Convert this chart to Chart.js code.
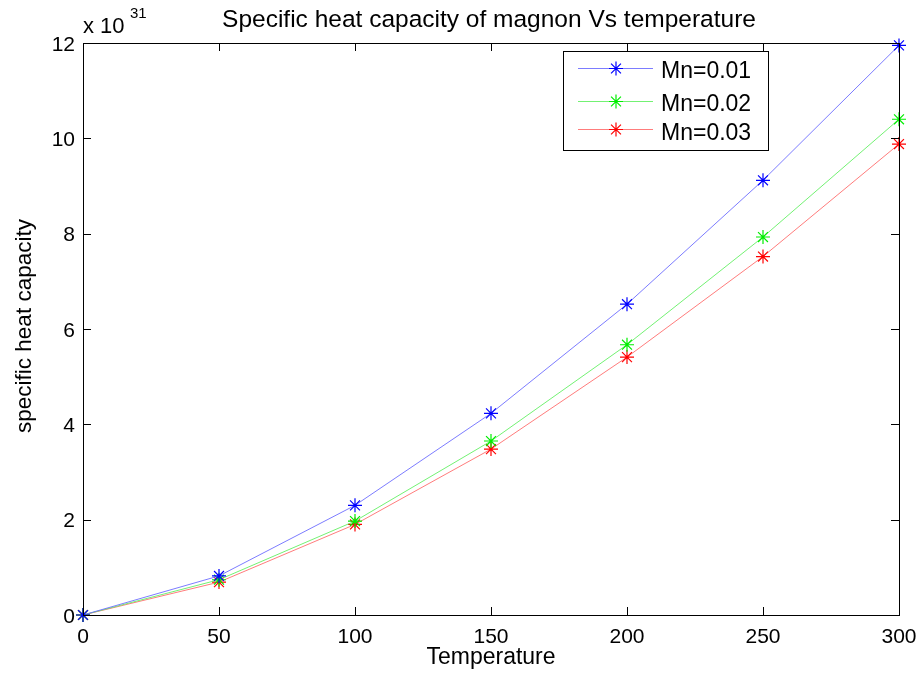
<!DOCTYPE html>
<html>
<head>
<meta charset="utf-8">
<script src="https://cdn.jsdelivr.net/npm/chart.js@4"></script>
<style>
  body { margin: 0; background: #fff; }
  #wrap { width: 924px; height: 681px; }
</style>
</head>
<body>
<div id="wrap"><canvas id="grafico" width="924" height="681"></canvas></div>
<script>
// valores (em unidades de 1e31)
const temps = [0, 50, 100, 150, 200, 250, 300];
const mn001 = [0, 0.82, 2.30, 4.23, 6.52, 9.12, 11.95];
const mn002 = [0, 0.74, 1.97, 3.65, 5.67, 7.93, 10.40];
const mn003 = [0, 0.69, 1.90, 3.48, 5.41, 7.52, 9.88];
const xTicks = [0, 50, 100, 150, 200, 250, 300];
const yTicks = [0, 2, 4, 6, 8, 10, 12];
const labels = ['Mn=0.01', 'Mn=0.02', 'Mn=0.03'];

const font = '"Liberation Sans", Arial, sans-serif';

function serie(label, vals, cor, corLinha) {
    return {
        label: label,
        data: temps.map((t, i) => ({ x: t, y: vals[i] })),
        borderColor: corLinha,
        borderWidth: 1,
        pointStyle: 'star',
        pointRadius: 7,
        pointBorderColor: cor,
        pointBorderWidth: 1.2,
        pointBackgroundColor: cor,
        fill: false,
        tension: 0
    };
}

// eixos estilo matlab: caixa, ticks para dentro, legenda dentro
const eixosMatlab = {
    id: 'eixosMatlab',
    afterDraw(chart) {
        const ctx = chart.ctx;
        const a = chart.chartArea;
        const sx = chart.scales.x, sy = chart.scales.y;
        ctx.save();
        ctx.strokeStyle = '#000';
        ctx.lineWidth = 1;
        ctx.strokeRect(a.left + 0.5, a.top + 0.5, a.right - a.left, a.bottom - a.top);
        ctx.beginPath();
        xTicks.forEach(v => {
            const px = Math.round(sx.getPixelForValue(v)) + 0.5;
            ctx.moveTo(px, a.bottom); ctx.lineTo(px, a.bottom - 8);
            ctx.moveTo(px, a.top); ctx.lineTo(px, a.top + 8);
        });
        yTicks.forEach(v => {
            const py = Math.round(sy.getPixelForValue(v)) + 0.5;
            ctx.moveTo(a.left, py); ctx.lineTo(a.left + 8, py);
            ctx.moveTo(a.right, py); ctx.lineTo(a.right - 8, py);
        });
        ctx.stroke();

        ctx.fillStyle = '#000';
        ctx.font = '21px ' + font;
        ctx.textAlign = 'center';
        ctx.textBaseline = 'alphabetic';
        xTicks.forEach(v => ctx.fillText(String(v), sx.getPixelForValue(v), a.bottom + 28));
        ctx.textAlign = 'right';
        ctx.textBaseline = 'middle';
        yTicks.forEach(v => ctx.fillText(String(v), a.left - 8, sy.getPixelForValue(v) + 2));

        // expoente
        ctx.textAlign = 'left';
        ctx.textBaseline = 'alphabetic';
        ctx.font = '22px ' + font;
        ctx.fillText('x 10', a.left, 33);
        ctx.font = '15px ' + font;
        ctx.fillText('31', a.left + 47, 18);

        // titulo e rótulos
        ctx.font = '24.5px ' + font;
        ctx.textAlign = 'center';
        ctx.fillText('Specific heat capacity of magnon Vs temperature', 489, 27);
        ctx.font = '23px ' + font;
        ctx.fillText('Temperature', 491, 664);
        ctx.save();
        ctx.translate(31, 326);
        ctx.rotate(-Math.PI / 2);
        ctx.font = '22.5px ' + font;
        ctx.fillText('specific heat capacity', 0, 0);
        ctx.restore();

        // legenda
        const lx = 563, ly = 51, lw = 205, lh = 99;
        ctx.fillStyle = '#fff';
        ctx.fillRect(lx, ly, lw, lh);
        ctx.strokeStyle = '#000';
        ctx.strokeRect(lx + 0.5, ly + 0.5, lw, lh);
        const rows = [68, 101, 129];
        const baselines = [78, 111, 140];
        chart.data.datasets.forEach((ds, i) => {
            const y = rows[i] + 0.5;
            ctx.strokeStyle = ds.borderColor;
            ctx.beginPath();
            ctx.moveTo(578, y); ctx.lineTo(653, y);
            ctx.stroke();
            ctx.strokeStyle = ds.pointBorderColor;
            ctx.lineWidth = 1.2;
            const r = 7, cx = 616;
            ctx.beginPath();
            for (let k = 0; k < 4; k++) {
                const ang = k * Math.PI / 4;
                ctx.moveTo(cx - r * Math.sin(ang), y - r * Math.cos(ang));
                ctx.lineTo(cx + r * Math.sin(ang), y + r * Math.cos(ang));
            }
            ctx.stroke();
            ctx.lineWidth = 1;
            ctx.fillStyle = '#000';
            ctx.font = '23px ' + font;
            ctx.textAlign = 'left';
            ctx.textBaseline = 'alphabetic';
            ctx.fillText(ds.label, 661, baselines[i]);
        });
        ctx.restore();
    }
};

document.addEventListener('DOMContentLoaded', function() {
    const ctx = document.getElementById('grafico').getContext('2d');
    new Chart(ctx, {
        type: 'line',
        data: {
            datasets: [
                serie(labels[0], mn001, '#0000ff', 'rgba(110,110,255,0.9)'),
                serie(labels[1], mn002, '#00ee00', 'rgba(100,240,100,0.9)'),
                serie(labels[2], mn003, '#ff0000', 'rgba(255,110,110,0.9)')
            ]
        },
        options: {
            responsive: false,
            animation: false,
            layout: { padding: { left: 83, right: 25, top: 43, bottom: 66 } },
            scales: {
                x: { type: 'linear', min: 0, max: 300, display: false },
                y: { type: 'linear', min: 0, max: 12, display: false }
            },
            plugins: {
                legend: { display: false },
                tooltip: { enabled: false }
            },
            clip: false
        },
        plugins: [eixosMatlab]
    });
});
</script>
</body>
</html>
